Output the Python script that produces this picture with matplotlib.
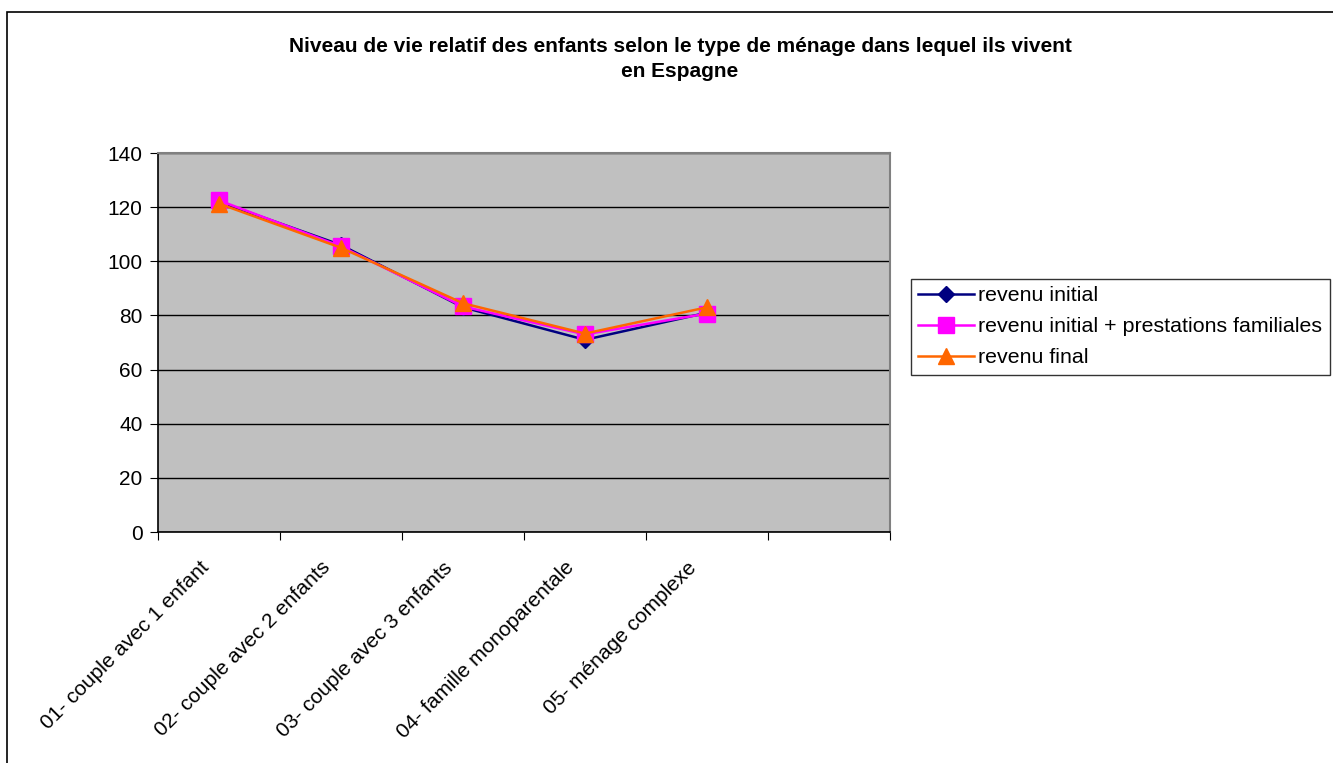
import matplotlib

matplotlib.use("Agg")
import matplotlib.pyplot as plt
from matplotlib.patches import Rectangle
from matplotlib.transforms import ScaledTranslation
import numpy as np

plt.rcParams["font.family"] = ["Liberation Sans", "DejaVu Sans"]

categories = [
    "01- couple avec 1 enfant",
    "02- couple avec 2 enfants",
    "03- couple avec 3 enfants",
    "04- famille monoparentale",
    "05- ménage complexe",
]
revenu_initial = [122.0, 106.0, 83.0, 71.0, 81.0]
revenu_prestations = [122.5, 105.5, 83.3, 73.0, 80.7]
revenu_final = [121.3, 105.0, 84.5, 73.3, 83.0]
n_slots = 6  # one empty category slot on the right

fig = plt.figure(figsize=(13.33, 7.63), dpi=100)
fig.patch.set_facecolor("white")

# chart frame
fig.add_artist(Rectangle((7 / 1333, -0.01), 1.1, 1 - 12 / 763 + 0.01,
                         transform=fig.transFigure, fill=False,
                         edgecolor="black", linewidth=1.2))

ax = fig.add_axes([158 / 1333, 1 - 532 / 763, (890 - 158) / 1333, (532 - 153) / 763])
ax.set_facecolor("#C0C0C0")

x = np.arange(len(categories)) + 0.5
ax.plot(x, revenu_initial, color="#000080", lw=1.8, marker="D", ms=8,
        label="revenu initial")
ax.plot(x, revenu_prestations, color="#FF00FF", lw=1.8, marker="s", ms=11,
        label="revenu initial + prestations familiales")
ax.plot(x, revenu_final, color="#FF6600", lw=1.8, marker="^", ms=11,
        label="revenu final")

ax.set_xlim(0, n_slots)
ax.set_ylim(0, 140)
ax.set_yticks(np.arange(0, 141, 20))
ax.yaxis.grid(True, color="black", lw=1)
ax.set_axisbelow(True)
ax.set_xticks(np.arange(0, n_slots + 1))
ax.set_xticklabels([])
ax.tick_params(axis="x", direction="out", length=6)
ax.tick_params(axis="y", direction="out", length=6, labelsize=15, pad=5)

# slanted category labels, nudged left/down from each slot centre
offset = ScaledTranslation(-20 / 100, -26 / 100, fig.dpi_scale_trans)
for xi, name in zip(x, categories):
    ax.text(xi, 0, name, transform=ax.get_xaxis_transform() + offset,
            rotation=45, ha="right", va="top", rotation_mode="anchor",
            fontsize=15)

for side in ("top", "right"):
    ax.spines[side].set_color("#808080")
    ax.spines[side].set_linewidth(1.5)
for side in ("left", "bottom"):
    ax.spines[side].set_color("black")
    ax.spines[side].set_linewidth(1.2)

fig.text(680 / 1333, 1 - 59 / 763,
         "Niveau de vie relatif des enfants selon le type de ménage dans lequel ils vivent\nen Espagne",
         ha="center", va="center", fontsize=15, fontweight="bold", linespacing=1.35)

leg = fig.legend(loc="upper left", bbox_to_anchor=(911 / 1333, 1 - 279 / 763),
                 fontsize=15.4, frameon=True, fancybox=False, handlelength=2.6,
                 handletextpad=0.2, borderpad=0.35, labelspacing=0.55, borderaxespad=0)
leg.get_frame().set_edgecolor("black")
leg.get_frame().set_linewidth(1.0)

fig.savefig("out.png", dpi=100)
